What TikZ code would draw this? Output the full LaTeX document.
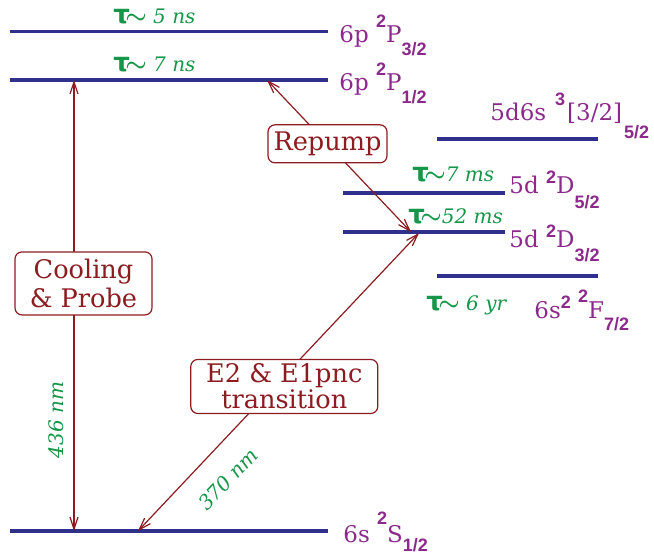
\documentclass[tikz,border=0pt]{standalone}
\usepackage{amsmath}
\usepackage{fontspec}
\setmainfont{DejaVu Serif}
\setsansfont{Liberation Sans}
\newfontfamily\taufont{DejaVu Sans}
\usetikzlibrary{arrows.meta}

\definecolor{levelblue}{RGB}{46,48,140}
\definecolor{transred}{RGB}{140,28,32}
\definecolor{lifegreen}{RGB}{22,150,72}
\definecolor{termpurple}{RGB}{140,42,140}

% term symbol pieces
\newcommand{\msup}[2][7.5pt]{\raisebox{#1}{\fontsize{9}{9}\selectfont\sffamily\bfseries #2}}
\newcommand{\jsub}[2][-6.5pt]{\raisebox{#1}{\fontsize{9}{9}\selectfont\sffamily\bfseries #2}}
% lifetime label
\newcommand{\lifet}[1]{{\fontsize{13}{13}\selectfont\taufont\bfseries τ\fontsize{12}{12}\selectfont\boldmath$\!\sim$}\textit{#1}}

\tikzset{
  level/.style={draw=levelblue, line width=1.6pt},
  trans/.style={draw=transred, line width=0.6pt, <->},
  labelbox/.style={draw=transred, text=transred, fill=white, rounded corners=3.5pt,
    line width=0.6pt, align=center, inner sep=1pt},
  term/.style={text=termpurple, anchor=base west, inner sep=0pt, font=\fontsize{11.5}{12}\selectfont},
  life/.style={text=lifegreen, anchor=base west, inner sep=0pt, font=\fontsize{10}{10}\selectfont},
  wavelbl/.style={text=lifegreen, inner sep=0pt, font=\fontsize{10}{10}\selectfont\itshape}
}

\begin{document}
\begin{tikzpicture}[x=0.5pt, y=-0.5pt, >={Straight Barb[length=6pt,width=4pt]}]
    \useasboundingbox (0,0) rectangle (654,558);

    % Levels
    \draw[level] (10,31.5) -- (328,31.5);
    \draw[level] (10,80) -- (328,80);
    \draw[level] (437,139) -- (598,139);
    \draw[level] (343,193) -- (505,193);
    \draw[level] (343,232) -- (505,232);
    \draw[level] (437,276) -- (598,276);
    \draw[level] (10,531) -- (328,531);

    % Term symbols
    \node[term] (pthree) at (339,42) {6p \msup{2}P\jsub{3/2}};
    \node[term] (pone) at (339,90) {6p \msup{2}P\jsub{1/2}};
    \node[term] (dsix) at (490,120) {5d6s\hspace{4.5pt}\msup{3}\hspace{1pt}[3/2]\hspace{1pt}\jsub[-9pt]{5/2}};
    \node[term] (dfive) at (509,193) {5d \msup[5pt]{2}D\jsub[-7.5pt]{5/2}};
    \node[term] (dthree) at (509,247) {5d \msup[5pt]{2}D\jsub[-7pt]{3/2}};
    \node[term] (ftwo) at (534,318) {6s\msup[5pt]{2} \msup[8pt]{2}F\jsub[-6pt]{7/2}};
    \node[term] (sone) at (343,542) {6s \msup[9pt]{2}S\jsub[-4.5pt]{1/2}};

    % Lifetimes
    \node[life] (tauP3) at (113,23) {\lifet{\ 5 ns}};
    \node[life] (tauP1) at (113,71) {\lifet{\ 7 ns}};
    \node[life] (tauD5) at (412,181) {\lifet{7 ms}};
    \node[life] (tauD3) at (408,223) {\lifet{52 ms}};
    \node[life] (tauF) at (426,310) {\lifet{\ 6 yr}};

    % Transitions
    \coordinate (coolTop) at (74,80);
    \coordinate (coolBot) at (74,531);
    \coordinate (rpTop) at (267,80);
    \coordinate (rpBot) at (411,232);
    \coordinate (eTop) at (419,233);
    \coordinate (eBot) at (138,531);

    \draw[trans] (coolTop) -- node[labelbox, pos=0.451, xshift=4.75pt,
        minimum width=68.5pt, minimum height=31.5pt,
        font=\fontsize{12.8}{14.5}\selectfont] (coolbox) {Cooling\\\& Probe} (coolBot);
    \draw[trans] (rpTop) -- node[labelbox, pos=0.42, minimum width=59.5pt,
        minimum height=19pt, font=\fontsize{12.8}{14}\selectfont] (rpbox) {Repump} (rpBot);
    \draw[trans] (eTop) -- node[labelbox, pos=0.515, xshift=5pt,
        minimum width=93.5pt, minimum height=27pt,
        font=\fontsize{12.8}{11}\selectfont] (e2box) {E2 \& E1pnc\\transition} (eBot);

    % Wavelengths
    \node[wavelbl, rotate=90] (lamcool) at (56,420) {436 nm};
    \node[wavelbl, rotate=46.6] (lame2) at (228,479) {370 nm};
\end{tikzpicture}
\end{document}
